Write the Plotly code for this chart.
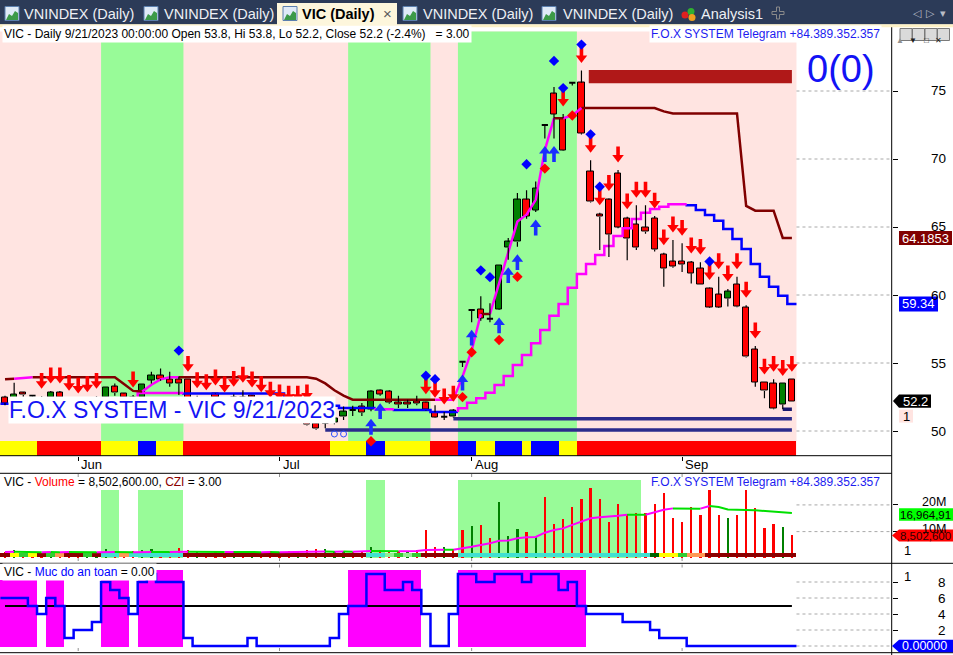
import plotly.graph_objects as go

W, H = 953, 655
FONT = "Liberation Sans, Arial, sans-serif"

# ======================= DATA =======================
month_labels = ["Jun", "Jul", "Aug", "Sep"]
month_pos = [8, 30, 51, 74]          # bar index of first session of each month

opens = [
    52.5, 52.4, 52.8, 52.6, 52.4, 52.5, 52.85, 52.3, 52.1, 52.0,
    52.2, 52.5, 53.25, 52.75, 52.5, 52.45, 53.75, 54.1, 53.8, 53.8,
    53.8, 52.0, 52.3, 52.75, 52.2, 52.1, 52.5, 52.6, 52.3, 51.8,
    51.5, 51.3, 51.0, 50.7, 50.55, 50.6, 50.6, 51.05, 51.55, 51.8,
    51.6, 53.0, 52.9, 52.1, 52.1, 52.2, 52.1, 51.38, 51.05, 51.05,
    55.1, 58.9, 58.95, 58.25, 58.95, 63.5, 63.9, 67.0, 66.25, 72.5,
    74.8, 73.0, 75.6, 75.6, 69.1, 65.9, 67.0, 68.95, 65.65, 65.2,
    65.0, 65.65, 63.0, 62.45, 62.5, 62.4, 61.95, 60.5, 60.05, 59.75,
    60.8, 59.1, 56.0, 53.6, 53.5, 51.95, 53.8]
highs = [
    52.6, 53.55, 52.85, 52.65, 52.55, 52.95, 52.95, 52.4, 52.2, 52.3,
    52.55, 53.2, 53.5, 52.8, 52.65, 53.4, 54.35, 54.6, 54.35, 54.0,
    53.8, 52.6, 52.45, 52.8, 52.28, 52.7, 53.0, 52.65, 52.3, 51.9,
    51.7, 51.6, 51.6, 51.7, 50.6, 50.8, 51.0, 51.8, 51.85, 52.05,
    53.0, 53.05, 53.0, 52.6, 52.3, 52.6, 52.15, 51.9, 51.4, 51.6,
    55.1, 58.9, 59.9, 59.4, 62.2, 64.2, 67.5, 67.7, 68.35, 72.5,
    75.3, 73.3, 75.6, 76.5, 69.9, 66.05, 67.1, 69.2, 65.75, 66.6,
    66.6, 65.8, 63.1, 64.05, 63.8, 62.5, 62.4, 60.55, 61.35, 60.45,
    61.35, 59.25, 56.25, 53.6, 53.8, 53.5, 53.8]
lows = [
    51.9, 52.3, 52.5, 52.4, 51.9, 52.3, 52.3, 51.8, 51.7, 51.7,
    52.0, 52.4, 52.6, 52.3, 52.1, 52.3, 53.5, 53.7, 53.25, 52.65,
    51.8, 51.8, 51.9, 52.3, 51.8, 52.0, 52.2, 52.2, 51.7, 51.3,
    51.1, 50.9, 50.7, 50.4, 50.1, 50.2, 50.5, 50.8, 51.1, 51.1,
    51.45, 52.6, 52.0, 51.7, 51.7, 51.9, 51.5, 50.95, 50.8, 51.0,
    54.7, 58.0, 58.1, 58.0, 58.9, 62.6, 63.55, 65.6, 66.1, 71.5,
    71.5, 70.6, 75.4, 71.8, 66.8, 63.3, 62.8, 64.9, 62.55, 63.3,
    64.5, 63.2, 60.6, 62.0, 61.7, 60.85, 60.8, 59.05, 59.05, 59.15,
    59.1, 55.4, 53.25, 52.4, 51.6, 51.6, 52.2]
closes = [
    52.05, 52.7, 52.65, 52.6, 52.0, 52.85, 52.5, 52.0, 51.9, 52.1,
    52.4, 53.2, 52.8, 52.5, 52.2, 53.4, 54.1, 53.8, 53.5, 53.5,
    51.9, 52.3, 52.0, 52.5, 52.0, 52.5, 52.4, 52.45, 51.8, 51.4,
    51.2, 51.0, 51.1, 50.45, 50.15, 50.6, 50.9, 51.4, 51.55, 51.35,
    52.9, 52.7, 52.1, 51.95, 51.95, 52.0, 51.55, 51.0, 51.05, 51.5,
    55.1, 58.9, 58.3, 58.25, 62.2, 63.9, 67.0, 65.8, 67.85, 72.5,
    73.3, 70.65, 75.6, 71.9, 66.85, 65.75, 64.45, 65.0, 64.15, 63.5,
    64.65, 63.35, 61.95, 62.1, 62.25, 61.6, 60.8, 59.1, 59.1, 60.25,
    59.15, 55.45, 53.6, 52.95, 51.65, 53.5, 52.2]

# trailing line 1 (maroon = resistance, magenta = support), per bar
trail1 = [
    53.8, 53.85, 53.9, 53.95, 53.95, 53.95, 53.95, 53.95, 53.95, 53.95,
    53.95, 53.95, 53.95, 53.45, 52.95, 52.9, 53.4, 53.8, 53.95, 53.95,
    53.95, 53.95, 53.95, 53.95, 53.95, 53.95, 53.95, 53.95, 53.95, 53.95,
    53.95, 53.95, 53.95, 53.95, 53.85, 53.5, 53.0, 52.6, 52.3, 52.3,
    52.3, 52.3, 52.3, 52.3, 52.3, 52.3, 52.3, 52.3, 52.3, 52.3,
    54.0, 55.9, 58.6, 58.6, 60.9, 63.05, 65.4, 65.9, 67.0, 70.65,
    73.0, 73.0, 73.2, 73.75, 73.75, 73.75, 73.75, 73.75, 73.75, 73.75,
    73.75, 73.75, 73.5, 73.35, 73.35, 73.35, 73.35, 73.35, 73.35, 73.35,
    73.35, 66.55, 66.2, 66.2, 66.2, 64.19, 64.1853]
# segment state (bar i -> i+1): m = magenta, b = maroon
trail1_state = ("bmmbbbbbbbbbbbbmmmmbbbbbbbbbbbbbbbbbbbbbbbbbbbb"
                "mmmmmbmmmmmmmbmmbbbbbbbbbbbbbbbbbbbbbbb")

# trailing line 2 (step line: blue = resistance, magenta = support)
trail2 = [
    52.0, 52.0, 52.0, 52.0, 52.0, 52.0, 52.0, 52.0, 52.0, 52.0,
    52.0, 52.0, 52.0, 52.0, 52.0, 52.8, 52.8, 52.8, 52.8, 52.8,
    52.75, 52.75, 52.75, 52.75, 52.75, 52.75, 52.75, 52.75, 52.75, 52.75,
    52.75, 51.85, 51.85, 51.85, 51.85, 51.85, 51.85, 51.7, 51.7, 51.7,
    51.7, 51.6, 51.6, 51.55, 51.55, 51.55, 51.55, 51.4, 51.4, 51.4,
    51.67, 52.08, 52.41, 52.82, 53.38, 54.04, 54.85, 55.59, 56.45, 57.43,
    58.48, 59.34, 60.53, 61.54, 62.28, 62.94, 63.6, 64.34, 64.9, 65.59,
    66.05, 66.32, 66.49, 66.67, 66.67, 66.6, 66.25, 65.88, 65.46, 64.85,
    64.12, 63.38, 62.28, 61.35, 60.61, 59.95, 59.34]
trail2_state = ("bbbbbbbbbbbbbbbmmmmmbbbbbbbbbbbbbbbbbbbbbmmbbbbbbb"
                "mmmmmmmmmmmmmmmmmmmmmmmmmbbbbbbbbbbbb")

# background regime zones (bar index ranges, inclusive)
green_start = [11, 38, 50]
green_end = [19, 46, 62]
# colour strip under price (Y yellow, R red, B blue)
strip_codes = ("YYYYRRRRRRRYYYYBBYYYRRRRRRRRRRRRRRRRYYYYBBYYYYYRRRBBYYBBBYBBBYY"
               "RRRRRRRRRRRRRRRRRRRRRRRR")

# signals
sell_arrows = [4, 5, 6, 7, 8, 9, 10, 14, 20, 21, 22, 23, 24, 25, 26, 27, 28, 29, 30, 31,
               32, 33, 46, 47, 48, 49, 61, 63, 64, 65, 66, 67, 68, 69, 70, 71, 72, 73,
               74, 75, 76, 77, 78, 79, 80, 81, 82, 83, 84, 85, 86]
buy_arrows = [40, 41, 50, 51, 54, 55, 56, 58, 59, 60]
blue_dots = [19, 46, 47, 52, 53, 57, 60, 61, 63, 64, 65, 77]
red_dots = [35, 40, 50, 51, 54, 56, 59, 62]
ring_bars = [36, 37]
ring_level = [49.78, 49.78]

# support lines (level, first bar)
support_levels = [50.07, 50.9, 51.6]
support_start = [35, 49, 85]
# supply zone block
zone_low, zone_high, zone_start = 75.57, 76.55, 64

# volume (millions)
volume_m = [
    2.2, 3.0, 1.8, 1.5, 2.0, 2.4, 2.1, 2.8, 2.1, 1.9,
    2.2, 3.2, 2.5, 2.0, 2.6, 3.0, 3.3, 2.4, 2.2, 3.7,
    3.0, 2.1, 1.8, 2.4, 2.0, 2.6, 2.2, 2.0, 2.4, 2.7,
    2.3, 2.5, 2.6, 2.9, 3.2, 3.5, 2.6, 2.8, 2.4, 2.7,
    4.3, 3.0, 2.6, 2.5, 2.8, 3.1, 10.6, 4.1, 4.1, 3.5,
    10.6, 12.1, 12.5, 7.5, 21.0, 8.4, 10.9, 9.9, 7.9, 22.8,
    12.8, 14.6, 19.1, 22.1, 26.2, 22.1, 13.3, 20.3, 16.6, 16.9,
    16.9, 20.3, 24.3, 15.0, 13.3, 19.1, 16.2, 25.6, 16.2, 15.0,
    16.2, 25.6, 18.7, 11.2, 12.8, 11.6, 8.5026]
volume_dir = ("rgrrrgrrrg" "ggrrrggrrr" "rgrrrgrgrr" "rrgrrgggrr" "grrrgrrrgr"
              "rgrrgggrgr" "rrrrrrrrrr" "rrrrrrrrrg" "rrrrrgr")
volume_ma_m = [
    2.4, 2.45, 2.4, 2.35, 2.3, 2.35, 2.3, 2.35, 2.3, 2.25,
    2.25, 2.3, 2.35, 2.3, 2.3, 2.35, 2.4, 2.4, 2.35, 2.45,
    2.5, 2.45, 2.4, 2.4, 2.35, 2.4, 2.35, 2.3, 2.3, 2.35,
    2.3, 2.35, 2.4, 2.45, 2.5, 2.55, 2.5, 2.55, 2.5, 2.55,
    2.7, 2.7, 2.65, 2.6, 2.65, 2.7, 3.1, 3.15, 3.2, 3.2,
    3.7, 4.3, 5.0, 5.6, 6.6, 6.7, 7.5, 7.9, 8.0, 9.6,
    10.6, 11.2, 12.5, 13.7, 15.0, 15.4, 15.6, 15.9, 16.3, 16.3,
    16.3, 17.3, 18.2, 18.7, 18.7, 18.7, 18.6, 19.6, 19.2, 18.3,
    18.1, 18.1, 18.0, 17.8, 17.6, 17.3, 16.96]
vol_strip_codes = ("DYGYDGODDGDTTOT" "TTTTT" "DDDDDDDDDDDDDDDDDDDD" "TTLGLG" "DDDD"
                   "TTTTTTTTTTTTTTTTTTTTT" "KYYGOO" "DDDDDDDDDD")
vol_zone_start = [11, 15, 40, 50]
vol_zone_end = [12, 19, 41, 69]
vol_zone_top = [25.6, 25.6, 29.3, 29.3]

# "Muc do an toan" indicator
safety = [
    6, 6, 6, 5, 4, 6, 5, 1, 2, 2,
    3, 8, 7, 6, 4, 8, 9, 8, 8, 8,
    1, 0, 0, 0, 0, 0, 0, 1, 0, 0,
    0, 0, 0, 0, 0, 0, 1, 4, 5, 5,
    9, 9, 7, 7, 8, 7, 4, 0, 0, 4,
    9, 9, 8, 8, 9, 9, 9, 8, 9, 9,
    9, 7, 8, 5, 4, 4, 4, 4, 3, 3,
    3, 2, 1, 1, 1, 0, 0, 0, 0, 0,
    0, 0, 0, 0, 0, 0, 0]
safety_threshold = 5
safe_zone_start = [0, 5, 11, 15, 38, 50]
safe_zone_end = [3, 6, 13, 19, 45, 63]
safe_zone_top = [8.25, 8.25, 8.25, 9.5, 9.5, 9.5]
safe_zone_base = -0.2

price_ticks = [50, 55, 60, 65, 70, 75]
vol_ticks = [10, 20]
vol_tick_text = ["10M", "20M"]
ind_ticks = [2, 4, 6, 8]

n = len(closes)
for arr in (opens, highs, lows, trail1, trail2, volume_m, volume_ma_m, safety):
    assert len(arr) == n, len(arr)
assert len(strip_codes) == n and len(vol_strip_codes) == n and len(volume_dir) == n
assert len(trail2_state) == n and len(trail1_state) == n - 1

# ======================= LAYOUT GEOMETRY =======================
def fx(px):
    return px / W


def fy(py):
    return 1 - py / H


BAR0, STEP = 5.0, 9.15
PLOT_R = 891.7
XR = [(0 - BAR0) / STEP, (PLOT_R - BAR0) / STEP]
MAIN_T, MAIN_B = 31.5, 455.7
VOL_T, VOL_B = 473.3, 563.3
IND_T, IND_B = 563.3, 652.7
MAIN_R = [48.184, 79.375]
VOL_R = [-1.873, 31.84]
IND_R = [-0.8375, 10.3375]
PPU = (MAIN_B - MAIN_T) / (MAIN_R[1] - MAIN_R[0])


def main_px(p):
    return MAIN_T + (MAIN_R[1] - p) * PPU


def vol_px(v):
    return VOL_T + (VOL_R[1] - v) * (VOL_B - VOL_T) / (VOL_R[1] - VOL_R[0])


def ind_px(v):
    return IND_T + (IND_R[1] - v) * (IND_B - IND_T) / (IND_R[1] - IND_R[0])


def off(px):
    return px / PPU


PINK = "#ffe4e1"
LGREEN = "#98fb98"
MAROON = "#800000"
MAGENTA = "#ff00ff"
BLUE = "#0000ff"
RED = "#ff0000"
UPG = "#008000"

fig = go.Figure()
shapes, annos = [], []


def colored_polyline(xs, ys, seg_cols):
    out, prev = {}, None
    for i, col in enumerate(seg_cols):
        lx, ly = out.setdefault(col, ([], []))
        if col != prev:
            if prev is not None:
                out[prev][0].append(None)
                out[prev][1].append(None)
            lx.append(xs[i])
            ly.append(ys[i])
        lx.append(xs[i + 1])
        ly.append(ys[i + 1])
        prev = col
    return out


def step_polyline(vals, cols):
    out, prev = {}, None
    for i, v in enumerate(vals):
        col = cols[i]
        if col != prev and prev is not None:
            out[prev][0].append(None)
            out[prev][1].append(None)
        lx, ly = out.setdefault(col, ([], []))
        start = vals[i - 1] if i > 0 else v
        lx += [i - 0.5, i - 0.5, i + 0.5]
        ly += [start, v, v]
        prev = col
    return out


# ---------------- main pane backgrounds ----------------
shapes.append(dict(type="rect", xref="x", yref="paper", x0=XR[0], x1=n - 0.5,
                   y0=fy(MAIN_B), y1=fy(MAIN_T), fillcolor=PINK, line_width=0, layer="below"))
for a, b in zip(green_start, green_end):
    shapes.append(dict(type="rect", xref="x", yref="paper", x0=a - 0.5, x1=b + 0.5,
                       y0=fy(MAIN_B), y1=fy(MAIN_T), fillcolor=LGREEN, line_width=0, layer="below"))
# dotted grid in blank area
for t in price_ticks:
    shapes.append(dict(type="line", xref="x", yref="y", x0=n - 0.5, x1=XR[1], y0=t, y1=t,
                       line=dict(color="#a8a8a8", width=1, dash="dot"), layer="below"))
for t in vol_ticks:
    shapes.append(dict(type="line", xref="x2", yref="y2", x0=n - 0.5, x1=XR[1], y0=t, y1=t,
                       line=dict(color="#a8a8a8", width=1, dash="dot"), layer="below"))
for t in [0] + ind_ticks:
    shapes.append(dict(type="line", xref="x3", yref="y3", x0=n - 0.5, x1=XR[1], y0=t, y1=t,
                       line=dict(color="#a8a8a8", width=1, dash="dot"), layer="below"))
# supply zone block
shapes.append(dict(type="rect", xref="x", yref="y", x0=zone_start - 0.2, x1=n - 1,
                   y0=zone_low, y1=zone_high, fillcolor="#b01818", line_width=0, layer="below"))

# ---------------- main pane traces ----------------
for col, (lx, ly) in step_polyline(trail2, trail2_state).items():
    fig.add_trace(go.Scatter(x=lx, y=ly, mode="lines", xaxis="x", yaxis="y",
                             line=dict(color=MAGENTA if col == "m" else BLUE, width=2.5),
                             hoverinfo="skip"))
for col, (lx, ly) in colored_polyline(list(range(n)), trail1, trail1_state).items():
    fig.add_trace(go.Scatter(x=lx, y=ly, mode="lines", xaxis="x", yaxis="y",
                             line=dict(color=MAGENTA if col == "m" else MAROON, width=2.5),
                             hoverinfo="skip"))
for k, (lev, st) in enumerate(zip(support_levels, support_start)):
    fig.add_trace(go.Scatter(x=[st, n - 1], y=[lev, lev], mode="lines", xaxis="x", yaxis="y",
                             line=dict(color="#191970" if k == 2 else "#2b2b8c", width=3.6),
                             hoverinfo="skip"))

# candle bodies
bx, bb, bh, bc = [], [], [], []
for i in range(n):
    o, c = opens[i], closes[i]
    if abs(c - o) > 1e-9:
        bx.append(i)
        bb.append(min(o, c))
        bh.append(abs(c - o))
        bc.append(UPG if c > o else RED)
fig.add_trace(go.Bar(x=bx, y=bh, base=bb, width=0.68, xaxis="x", yaxis="y",
                     marker=dict(color=bc, line=dict(color="black", width=1)), hoverinfo="skip"))
# colour strip
strip_top = MAIN_R[0] + off(MAIN_B - 440.7)
cmap = {"Y": "#ffff00", "R": "#ff0000", "B": "#0000ff"}
fig.add_trace(go.Bar(x=list(range(n)), y=[strip_top - MAIN_R[0]] * n, base=MAIN_R[0], width=1.0,
                     xaxis="x", yaxis="y", marker=dict(color=[cmap[c] for c in strip_codes], line_width=0),
                     hoverinfo="skip"))
# wicks
wx, wy, dx, dy = [], [], [], []
for i in range(n):
    o, c, h, l = opens[i], closes[i], highs[i], lows[i]
    top, bot = max(o, c), min(o, c)
    if h > top + 1e-9:
        wx += [i, i, None]
        wy += [top, h, None]
    if l < bot - 1e-9:
        wx += [i, i, None]
        wy += [l, bot, None]
    if abs(c - o) <= 1e-9:
        dx += [i - 0.34, i + 0.34, None]
        dy += [o, o, None]
fig.add_trace(go.Scatter(x=wx, y=wy, mode="lines", xaxis="x", yaxis="y",
                         line=dict(color="black", width=1.2), hoverinfo="skip"))
fig.add_trace(go.Scatter(x=dx, y=dy, mode="lines", xaxis="x", yaxis="y",
                         line=dict(color="black", width=2), hoverinfo="skip"))

# arrows & dots
fig.add_trace(go.Scatter(x=sell_arrows, y=[highs[i] + off(18.5) for i in sell_arrows], mode="markers",
                         xaxis="x", yaxis="y", hoverinfo="skip",
                         marker=dict(symbol="line-ns", size=7, color=RED, line=dict(width=3.6, color=RED))))
fig.add_trace(go.Scatter(x=sell_arrows, y=[highs[i] + off(12.5) for i in sell_arrows], mode="markers",
                         xaxis="x", yaxis="y", hoverinfo="skip",
                         marker=dict(symbol="triangle-down", size=10, color=RED, line=dict(width=0))))
BLUE_AR = "#1a2eff"
fig.add_trace(go.Scatter(x=buy_arrows, y=[lows[i] - off(18.5) for i in buy_arrows], mode="markers",
                         xaxis="x", yaxis="y", hoverinfo="skip",
                         marker=dict(symbol="line-ns", size=7, color=BLUE_AR, line=dict(width=3.6, color=BLUE_AR))))
fig.add_trace(go.Scatter(x=buy_arrows, y=[lows[i] - off(12.5) for i in buy_arrows], mode="markers",
                         xaxis="x", yaxis="y", hoverinfo="skip",
                         marker=dict(symbol="triangle-up", size=10, color=BLUE_AR, line=dict(width=0))))
fig.add_trace(go.Scatter(x=blue_dots, y=[highs[i] + off(26) for i in blue_dots], mode="markers",
                         xaxis="x", yaxis="y", hoverinfo="skip",
                         marker=dict(symbol="diamond", size=8, color=BLUE, line=dict(width=0))))
fig.add_trace(go.Scatter(x=red_dots, y=[lows[i] - off(30) for i in red_dots], mode="markers",
                         xaxis="x", yaxis="y", hoverinfo="skip", cliponaxis=False,
                         marker=dict(symbol="diamond", size=8, color=RED, line=dict(width=0))))
fig.add_trace(go.Scatter(x=ring_bars, y=ring_level, mode="markers", xaxis="x", yaxis="y", hoverinfo="skip",
                         marker=dict(symbol="circle-open", size=6, color="#3050ff", line=dict(width=1))))

# ---------------- volume pane ----------------
zx, zy = [], []
for a, b, t in zip(vol_zone_start, vol_zone_end, vol_zone_top):
    for i in range(a, b + 1):
        zx.append(i)
        zy.append(t)
fig.add_trace(go.Bar(x=zx, y=zy, base=0, width=1.0, xaxis="x2", yaxis="y2",
                     marker=dict(color=LGREEN, line_width=0), hoverinfo="skip"))
fig.add_trace(go.Bar(x=list(range(n)), y=volume_m, base=0, width=0.25, xaxis="x2", yaxis="y2",
                     marker=dict(color=[UPG if d == "g" else RED for d in volume_dir], line_width=0),
                     hoverinfo="skip"))
vmap = {"D": "#8b0000", "Y": "#ffff00", "G": "#32cd32", "O": "#ff9955", "T": "#40e0d0",
        "L": "#90ee90", "K": "#006400"}
s_lo = VOL_R[1] - (557.3 - VOL_T) * (VOL_R[1] - VOL_R[0]) / (VOL_B - VOL_T)
s_hi = VOL_R[1] - (553.0 - VOL_T) * (VOL_R[1] - VOL_R[0]) / (VOL_B - VOL_T)
fig.add_trace(go.Bar(x=list(range(n)), y=[s_hi - s_lo] * n, base=s_lo, width=1.0, xaxis="x2", yaxis="y2",
                     marker=dict(color=[vmap[c] for c in vol_strip_codes], line_width=0), hoverinfo="skip"))
ma_cols = ["m" if volume_ma_m[i + 1] > volume_ma_m[i] else "g" for i in range(n - 1)]
for col, (lx, ly) in colored_polyline(list(range(n)), volume_ma_m, ma_cols).items():
    fig.add_trace(go.Scatter(x=lx, y=ly, mode="lines", xaxis="x2", yaxis="y2", hoverinfo="skip",
                             line=dict(color=MAGENTA if col == "m" else "#00e000", width=2)))

# ---------------- indicator pane ----------------
sx, sy = [], []
for a, b, t in zip(safe_zone_start, safe_zone_end, safe_zone_top):
    for i in range(a, b + 1):
        sx.append(i)
        sy.append(t - safe_zone_base)
fig.add_trace(go.Bar(x=sx, y=sy, base=safe_zone_base, width=1.0, xaxis="x3", yaxis="y3",
                     marker=dict(color=MAGENTA, line_width=0), hoverinfo="skip"))
fig.add_trace(go.Scatter(x=[0, n - 1], y=[safety_threshold, safety_threshold], mode="lines",
                         xaxis="x3", yaxis="y3", line=dict(color="black", width=2), hoverinfo="skip"))
for col, (lx, ly) in step_polyline(safety, ["b"] * n).items():
    fig.add_trace(go.Scatter(x=lx, y=ly, mode="lines", xaxis="x3", yaxis="y3", hoverinfo="skip",
                             line=dict(color=BLUE, width=2.5)))

# ---------------- frame lines ----------------
def hline(py, x0=0, x1=W, color="black", w=1):
    shapes.append(dict(type="line", xref="paper", yref="paper", x0=fx(x0), x1=fx(x1), y0=fy(py), y1=fy(py),
                       line=dict(color=color, width=w), layer="above"))


hline(MAIN_B, 0, PLOT_R)
hline(VOL_T, 0, PLOT_R)
hline(VOL_B)
hline(IND_B)
shapes.append(dict(type="line", xref="paper", yref="paper", x0=fx(PLOT_R), x1=fx(PLOT_R), y0=fy(27), y1=0,
                   line=dict(color="black", width=1), layer="above"))
for m in month_pos:
    for (ya, yb) in [(474, 478), (558, 562), (564.5, 568.5), (648, 652)]:
        shapes.append(dict(type="line", xref="x2", yref="paper", x0=m, x1=m, y0=fy(ya), y1=fy(yb),
                           line=dict(color="#909090", width=1, dash="dot"), layer="above"))

# ---------------- tab bar ----------------
shapes.append(dict(type="rect", xref="paper", yref="paper", x0=0, x1=1, y0=fy(24.5), y1=1,
                   fillcolor="#2c3b58", line_width=0, layer="above"))
shapes.append(dict(type="rect", xref="paper", yref="paper", x0=0, x1=1, y0=fy(27.3), y1=fy(24.3),
                   fillcolor="#fdf1c6", line_width=0, layer="above"))
shapes.append(dict(type="rect", xref="paper", yref="paper", x0=fx(277), x1=fx(397), y0=fy(25), y1=fy(3),
                   fillcolor="#fdf6dc", line_width=0, layer="above"))


def ppath(points):
    return "M " + " L ".join(f"{fx(x):.5f},{fy(y):.5f}" for x, y in points) + " Z"


for x0 in [5, 144, 283, 403, 542]:
    shapes.append(dict(type="rect", xref="paper", yref="paper", x0=fx(x0), x1=fx(x0 + 14), y0=fy(20.5),
                       y1=fy(6.5), fillcolor="#dfeaf7", line=dict(color="#5b7fae", width=1), layer="above"))
    shapes.append(dict(type="path", xref="paper", yref="paper",
                       path=ppath([(x0 + 1, 20), (x0 + 4, 14), (x0 + 7, 16), (x0 + 10, 11), (x0 + 13, 13),
                                   (x0 + 13, 20)]),
                       fillcolor="#3c9a48", line_width=0, layer="above"))
for cx, cy, colr in [(685, 15, "#e02020"), (691, 11.5, "#30b030"), (692, 17.5, "#f0a020")]:
    shapes.append(dict(type="circle", xref="paper", yref="paper", x0=fx(cx - 3.5), x1=fx(cx + 3.5),
                       y0=fy(cy + 3.5), y1=fy(cy - 3.5), fillcolor=colr, line_width=0, layer="above"))
shapes.append(dict(type="path", xref="paper", yref="paper", layer="above", fillcolor="rgba(0,0,0,0)",
                   line=dict(color="#8a8a8a", width=1),
                   path=ppath([(776.5, 7), (779.5, 7), (779.5, 11.5), (784, 11.5), (784, 14.5), (779.5, 14.5),
                               (779.5, 19), (776.5, 19), (776.5, 14.5), (772, 14.5), (772, 11.5),
                               (776.5, 11.5)])))
# window buttons
for k, g in enumerate(["▲", "▼", "□", "✕"]):
    bx0 = 900 + 12.5 * k
    shapes.append(dict(type="rect", xref="paper", yref="paper", x0=fx(bx0), x1=fx(bx0 + 12), y0=fy(40.5),
                       y1=fy(28.5), fillcolor="#dadada", line=dict(color="#7a7a7a", width=1), layer="above"))
    annos.append(dict(x=fx(bx0 + 6), y=fy(34.5), xref="paper", yref="paper", text=g, showarrow=False,
                      font=dict(family=FONT, size=8, color="#202020" if k else "#909090")))


def text(x, y, s, size=12, color="black", anchor="left", bold=False, bg=None, yref="paper", xref="paper",
         xshift=0, pad=1):
    d = dict(x=x, y=y, xref=xref, yref=yref, text=("<b>%s</b>" % s) if bold else s, showarrow=False,
             xanchor=anchor, yanchor="middle", font=dict(family=FONT, size=size, color=color),
             xshift=xshift, borderpad=pad)
    if bg:
        d["bgcolor"] = bg
    annos.append(d)


for xpos, label in [(22, "VNINDEX (Daily)"), (162, "VNINDEX (Daily)"), (421, "VNINDEX (Daily)"),
                    (561, "VNINDEX (Daily)"), (699, "Analysis1")]:
    text(fx(xpos), fy(13.5), label, size=14.5, color="#eef0f4")
text(fx(300), fy(13.5), "VIC (Daily)", size=14.5, color="black", bold=True)
text(fx(387.5), fy(13), "×", size=15, color="#5a5a5a", anchor="center")
for xpos, g in [(917, "◁"), (930, "▷"), (943, "▾")]:
    text(fx(xpos), fy(13), g, size=11, color="#b8bcc6", anchor="center")

# ---------------- titles & labels ----------------
NB = "\u00a0"
text(fx(2), fy(34.5), "VIC - Daily 9/21/2023 00:00:00 Open 53.8, Hi 53.8, Lo 52.2, Close 52.2 (-2.4%)"
     + NB * 3 + "= 3.00", size=12, bg="white")
text(fx(649), fy(34.5), "F.O.X SYSTEM Telegram +84.389.352.357", size=12, color="#1c1cf0", bg="white")
text(fx(805), fy(69), "0(0)", size=38, color="#1212f5")
text(fx(8), fy(410), "F.O.X SYSTEM - VIC 9/21/2023", size=23, color="#1414f5", bg="white", pad=0)

for lab, m in zip(month_labels, month_pos):
    text(m, fy(464), lab, size=13, xref="x", xshift=1)

for t in price_ticks:
    text(fx(948), t, str(t), size=13.5, anchor="right", yref="y")
for t, lab in zip(vol_ticks, vol_tick_text):
    text(fx(948), fy(vol_px(t) - 2.5), lab, size=12.5, anchor="right")
for t in ind_ticks:
    text(fx(948), fy(ind_px(t)), str(t), size=13.5, anchor="right")

# last-value boxes
def box(x0, x1, yc, hh, fill, tip=None):
    if tip is None:
        shapes.append(dict(type="rect", xref="paper", yref="paper", x0=fx(x0), x1=fx(x1), y0=fy(yc + hh),
                           y1=fy(yc - hh), fillcolor=fill, line_width=0, layer="above"))
    else:
        shapes.append(dict(type="path", xref="paper", yref="paper", fillcolor=fill, line_width=0, layer="above",
                           path=ppath([(tip, yc), (x0, yc - hh), (x1, yc - hh), (x1, yc + hh), (x0, yc + hh)])))


y1 = main_px(trail1[-1])
box(899, 952, y1, 7, MAROON)
text(fx(925.5), fy(y1), "%.4f" % trail1[-1], size=13, color="white", anchor="center")
y2 = main_px(trail2[-1])
box(899, 938, y2, 7.5, BLUE)
text(fx(918.5), fy(y2), "%.2f" % trail2[-1], size=13, color="white", anchor="center")
yc = main_px(closes[-1])
box(899, 931, yc, 6.6, "black", tip=893)
text(fx(915), fy(yc), "%.1f" % closes[-1], size=13, color="white", anchor="center")
box(899, 913, yc + 15, 6.5, PINK)
text(fx(906), fy(yc + 15), "1", size=13, anchor="center")

yv = vol_px(volume_ma_m[-1])
box(899, 953, yv + 1.5, 6.3, "#00ff00")
text(fx(925.5), fy(yv + 1.5), "16,964,91", size=11.5, color="black", anchor="center", pad=0)
yv2 = vol_px(volume_m[-1])
box(899, 953, yv2, 6, "#ff0000", tip=892)
text(fx(925.5), fy(yv2), "8,502,600", size=11.5, color="#300000", anchor="center", pad=0)
text(fx(907), fy(550), "1", size=13, anchor="center")

yi = ind_px(safety[-1])
box(899, 953, yi, 6.3, BLUE, tip=892)
text(fx(900), fy(yi), "0.00000", size=12.5, color="white")
text(fx(907), fy(576.7), "1", size=13, anchor="center")

text(fx(2), fy(482.5), "VIC - <span style='color:#ff0000'>Volume</span> = 8,502,600.00, "
     "<span style='color:#8b0000'>CZI</span> = 3.00", size=12)
text(fx(649), fy(482.5), "F.O.X SYSTEM Telegram +84.389.352.357", size=12, color="#1c1cf0")
text(fx(2), fy(572), "VIC - <span style='color:#0000ff'>Muc do an toan</span> = 0.00", size=12, bg="white")

# ---------------- axes ----------------
xbase = dict(range=XR, domain=[0, fx(PLOT_R)], showgrid=False, zeroline=False, showline=False,
             fixedrange=True, automargin=False)
ybase = dict(showgrid=False, zeroline=False, showline=False, side="right", ticks="outside", ticklen=5,
             tickcolor="black", showticklabels=False, fixedrange=True, automargin=False)
fig.update_layout(
    width=W, height=H, margin=dict(l=0, r=0, t=0, b=0), paper_bgcolor="white", plot_bgcolor="rgba(0,0,0,0)",
    showlegend=False, barmode="overlay", bargap=0, font=dict(family=FONT),
    xaxis=dict(xbase, anchor="y", ticks="outside", ticklen=4, tickcolor="black", tickvals=month_pos,
               showticklabels=False),
    xaxis2=dict(xbase, anchor="y2", visible=False),
    xaxis3=dict(xbase, anchor="y3", visible=False),
    yaxis=dict(ybase, domain=[fy(MAIN_B), fy(MAIN_T)], range=MAIN_R, anchor="x", tickvals=price_ticks),
    yaxis2=dict(ybase, domain=[fy(VOL_B), fy(VOL_T)], range=VOL_R, anchor="x2", tickvals=vol_ticks),
    yaxis3=dict(ybase, domain=[fy(IND_B), fy(IND_T)], range=IND_R, anchor="x3", tickvals=[0] + ind_ticks),
    shapes=shapes, annotations=annos,
)
fig.write_html("out.html", config={"displayModeBar": False},
               post_script="document.body.style.margin='0';document.body.style.padding='0';"
                           "document.documentElement.style.overflow='hidden';")
